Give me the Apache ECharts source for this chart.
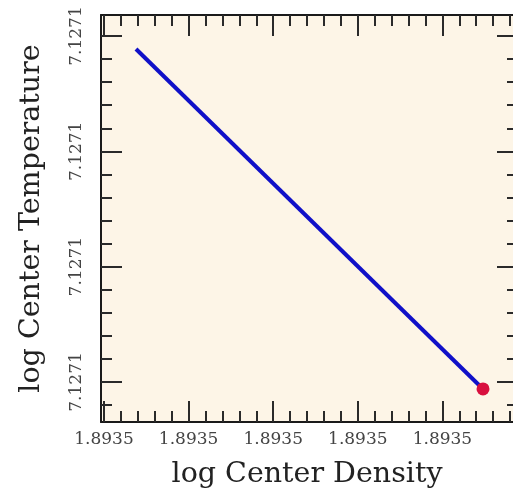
<!DOCTYPE html>
<html>
<head>
<meta charset="utf-8">
<script src="https://cdn.jsdelivr.net/npm/echarts@6/dist/echarts.min.js"></script>
<style>
html, body { margin: 0; padding: 0; background: #fff; }
#main { width: 513px; height: 500px; }
</style>
</head>
<body>
<div id="main"></div>
<script>
var myChart = echarts.init(document.getElementById('main'));

// labelled tick values (all print as the same 4-decimal string)
var densityTicks = [1.8935, 1.8935001, 1.8935002, 1.8935003, 1.8935004];
var temperatureTicks = [7.1271, 7.1271002, 7.1271004, 7.1271006];

// visible axis extents (right frame edge sits just past the canvas)
var densityRange = [1.89349999645, 1.89350048345];
var temperatureRange = [7.12709993060, 7.12710063640];

// track: log center density / log center temperature
var density = [1.8935000378, 1.8935004480];
var temperature = [7.1271005775, 7.1270999879];

var serif = 'DejaVu Serif';

var minorTicks = function (ticks, range) {
    var step = (ticks[1] - ticks[0]) / 5;
    var res = [];
    var v = ticks[0];
    while (v - step >= range[0]) v -= step;
    for (; v <= range[1]; v += step) res.push(v);
    return res;
};

var xAxisOf = function (grid, position, ticks, len, showLine, showLabel) {
    return {
        type: 'value',
        gridIndex: grid,
        position: position,
        min: densityRange[0],
        max: densityRange[1],
        splitLine: { show: false },
        axisLine: { show: showLine, onZero: false, lineStyle: { color: '#1a1a1a', width: 2 } },
        axisTick: {
            show: true, inside: true, length: len, customValues: ticks,
            lineStyle: { color: '#2a2a2a', width: 2 }
        },
        axisLabel: showLabel ? {
            show: true, customValues: densityTicks, margin: 9,
            fontFamily: serif, fontSize: 17, color: '#444',
            formatter: function (v) { return v.toFixed(4); }
        } : { show: false }
    };
};

var yAxisOf = function (grid, position, ticks, len, showLine, showLabel) {
    return {
        type: 'value',
        gridIndex: grid,
        position: position,
        offset: position === 'right' ? 5 : 0,
        min: temperatureRange[0],
        max: temperatureRange[1],
        splitLine: { show: false },
        axisLine: { show: showLine, onZero: false, lineStyle: { color: '#1a1a1a', width: 2 } },
        axisTick: {
            show: true, inside: true, length: len, customValues: ticks,
            lineStyle: { color: '#2a2a2a', width: 2 }
        },
        axisLabel: showLabel ? {
            show: true, customValues: temperatureTicks, margin: 16, rotate: 90,
            fontFamily: serif, fontSize: 17, color: '#444',
            formatter: function (v) { return v.toFixed(4); }
        } : { show: false }
    };
};

var xMain = xAxisOf(0, 'bottom', densityTicks, 21, true, true);
xMain.name = 'log Center Density';
xMain.nameLocation = 'middle';
xMain.nameGap = 38;
xMain.nameTextStyle = { fontFamily: serif, fontSize: 28.5, color: '#222' };

var yMain = yAxisOf(0, 'left', temperatureTicks, 21, true, true);
yMain.name = 'log Center Temperature';
yMain.nameLocation = 'middle';
yMain.nameGap = 55;
yMain.nameTextStyle = { fontFamily: serif, fontSize: 28.5, color: '#222' };

var densityMinor = minorTicks(densityTicks, densityRange);
var temperatureMinor = minorTicks(temperatureTicks, temperatureRange);

var gridBox = { left: 101, top: 15, right: 0, bottom: 78, outerBoundsMode: 'none' };

option = {
    backgroundColor: '#fff',
    animation: false,
    grid: [
        Object.assign({ show: true, backgroundColor: '#fdf5e7', borderWidth: 0 }, gridBox),
        Object.assign({ show: false }, gridBox)
    ],
    xAxis: [
        xMain,
        xAxisOf(0, 'top', densityTicks, 21, true, false),
        xAxisOf(1, 'bottom', densityMinor, 11, false, false),
        xAxisOf(1, 'top', densityMinor, 11, false, false)
    ],
    yAxis: [
        yMain,
        yAxisOf(0, 'right', temperatureTicks, 21, false, false),
        yAxisOf(1, 'left', temperatureMinor, 11, false, false),
        yAxisOf(1, 'right', temperatureMinor, 11, false, false)
    ],
    series: [
        {
            type: 'line',
            xAxisIndex: 0,
            yAxisIndex: 0,
            data: density.map(function (d, i) { return [d, temperature[i]]; }),
            showSymbol: false,
            lineStyle: { color: '#1010c8', width: 4 }
        },
        {
            type: 'scatter',
            xAxisIndex: 0,
            yAxisIndex: 0,
            data: [[density[density.length - 1], temperature[temperature.length - 1]]],
            symbolSize: 13,
            itemStyle: { color: '#d8103e', opacity: 1 },
            z: 5
        }
    ]
};

myChart.setOption(option);
</script>
</body>
</html>
